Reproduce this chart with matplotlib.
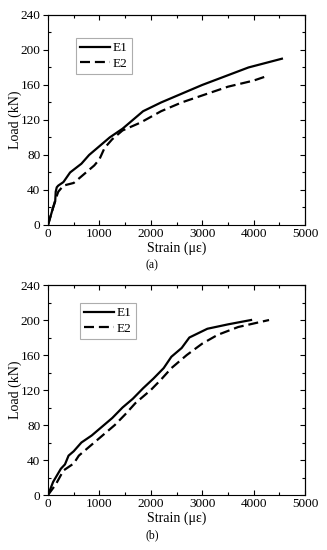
import matplotlib
matplotlib.use('Agg')
from matplotlib import pyplot as plt

plt.rcParams['font.family'] = ['Liberation Serif', 'DejaVu Serif']

# panel (a)
a_e1_strain = [0, 60, 100, 140, 150, 170, 200, 300, 430, 650, 800, 1000, 1200, 1450, 1650, 1850, 2200, 2600, 3000, 3450, 3900, 4550]
a_e1_load = [0, 12, 20, 27, 38, 43, 45, 49, 60, 70, 80, 90, 100, 110, 120, 130, 140, 150, 160, 170, 180, 190]
a_e2_strain = [0, 60, 100, 150, 200, 300, 500, 700, 900, 1000, 1100, 1250, 1450, 1800, 2200, 2600, 3000, 3500, 4000, 4250]
a_e2_load = [0, 12, 20, 30, 38, 45, 48, 58, 68, 75, 88, 98, 108, 117, 130, 140, 148, 158, 165, 170]

# panel (b)
b_e1_strain = [0, 100, 250, 330, 400, 500, 650, 850, 1050, 1250, 1450, 1650, 1850, 2050, 2250, 2400, 2600, 2750, 3100, 3500, 3950]
b_e1_load = [0, 15, 30, 35, 45, 50, 60, 68, 78, 88, 100, 110, 122, 133, 145, 158, 168, 180, 190, 195, 200]
b_e2_strain = [0, 150, 300, 400, 500, 600, 800, 1000, 1300, 1500, 1700, 2000, 2200, 2400, 2700, 3000, 3300, 3700, 4000, 4300]
b_e2_load = [0, 12, 28, 32, 36, 45, 55, 65, 80, 92, 105, 120, 132, 145, 160, 173, 183, 192, 196, 200]

x_major = list(range(0, 5001, 1000))
x_minor = list(range(0, 5001, 500))
y_major = list(range(0, 241, 40))
y_minor = list(range(0, 241, 20))

fig = plt.figure(figsize=(3.27, 5.5), dpi=100)
ax1 = fig.add_axes([0.1468, 0.591, 0.786, 0.3818])
ax2 = fig.add_axes([0.1468, 0.100, 0.786, 0.3818])


def estilo(ax, leg_x, leg_y):
    ax.set_xlim(0, 5000)
    ax.set_ylim(0, 240)
    ax.set_xticks(x_major)
    ax.set_xticks(x_minor, minor=True)
    ax.set_yticks(y_major)
    ax.set_yticks(y_minor, minor=True)
    ax.tick_params(which='both', labelsize=9.5, width=0.8)
    ax.tick_params(axis='x', which='both', direction='in')
    ax.tick_params(axis='y', which='major', direction='out')
    ax.tick_params(axis='y', which='minor', direction='in')
    ax.tick_params(which='major', length=3.5, pad=2)
    ax.tick_params(which='minor', length=2)
    ax.set_xlabel('Strain (με)', fontsize=10, labelpad=1)
    ax.set_ylabel('Load (kN)', fontsize=10, labelpad=-1)
    for s in ax.spines.values():
        s.set_linewidth(0.8)

    # ejes espejo para los ticks de arriba y derecha
    top = ax.secondary_xaxis('top')
    top.set_xticks(x_major)
    top.set_xticks(x_minor, minor=True)
    top.tick_params(which='both', direction='in', labeltop=False, width=0.8)
    top.tick_params(which='major', length=3.5)
    top.tick_params(which='minor', length=2)
    right = ax.secondary_yaxis('right')
    right.set_yticks(y_major)
    right.set_yticks(y_minor, minor=True)
    right.tick_params(which='both', direction='in', labelright=False, width=0.8)
    right.tick_params(which='major', length=3.5)
    right.tick_params(which='minor', length=2)
    for sec in (top, right):
        for s in sec.spines.values():
            s.set_linewidth(0.8)

    leg = ax.legend(loc='upper left', bbox_to_anchor=(leg_x, leg_y), fontsize=9.5, frameon=True,
                    fancybox=False, edgecolor='#999999', handlelength=2.3, handletextpad=0.2,
                    borderpad=0.3, labelspacing=0.25, borderaxespad=0)
    leg.get_frame().set_linewidth(0.8)


ax1.plot(a_e1_strain, a_e1_load, color='black', linewidth=1.6, linestyle='-', label='E1')
ax1.plot(a_e2_strain, a_e2_load, color='black', linewidth=1.6, linestyle=(0, (4.5, 2.2)), label='E2')
estilo(ax1, 0.109, 0.89)

ax2.plot(b_e1_strain, b_e1_load, color='black', linewidth=1.6, linestyle='-', label='E1')
ax2.plot(b_e2_strain, b_e2_load, color='black', linewidth=1.6, linestyle=(0, (4.5, 2.2)), label='E2')
estilo(ax2, 0.125, 0.914)

fig.text(0.465, 1 - 265 / 550, '(a)', ha='center', va='center', fontsize=8.5)
fig.text(0.465, 1 - 535 / 550, '(b)', ha='center', va='center', fontsize=8.5)

fig.savefig('out.png', dpi=100)
